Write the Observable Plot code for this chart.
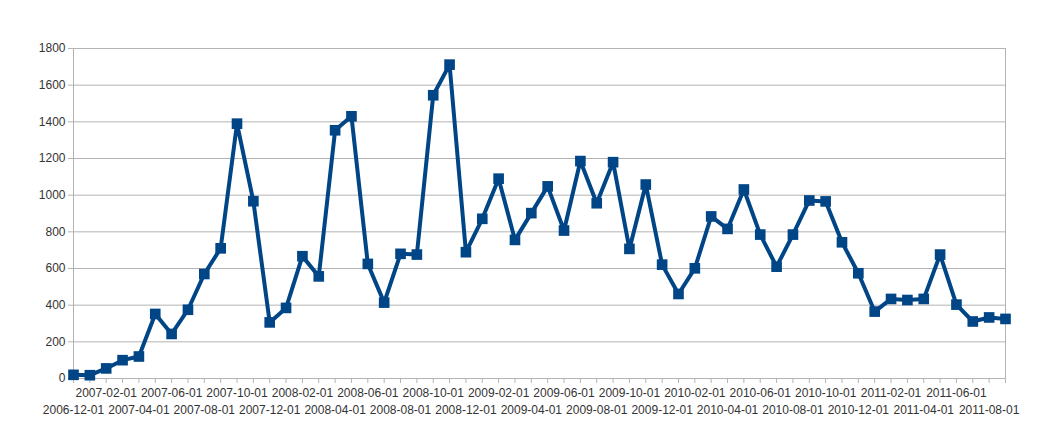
<!DOCTYPE html>
<html>
<head>
<meta charset="utf-8">
<script src="https://cdn.jsdelivr.net/npm/d3@7"></script>
<script src="https://cdn.jsdelivr.net/npm/@observablehq/plot@0.6"></script>
<style>
  html, body { margin: 0; padding: 0; background: #fff; }
</style>
</head>
<body>
<div id="chart"></div>
<script>
const dates = [
  "2006-12-01","2007-01-01","2007-02-01","2007-03-01","2007-04-01","2007-05-01","2007-06-01","2007-07-01","2007-08-01","2007-09-01",
  "2007-10-01","2007-11-01","2007-12-01","2008-01-01","2008-02-01","2008-03-01","2008-04-01","2008-05-01","2008-06-01","2008-07-01",
  "2008-08-01","2008-09-01","2008-10-01","2008-11-01","2008-12-01","2009-01-01","2009-02-01","2009-03-01","2009-04-01","2009-05-01",
  "2009-06-01","2009-07-01","2009-08-01","2009-09-01","2009-10-01","2009-11-01","2009-12-01","2010-01-01","2010-02-01","2010-03-01",
  "2010-04-01","2010-05-01","2010-06-01","2010-07-01","2010-08-01","2010-09-01","2010-10-01","2010-11-01","2010-12-01","2011-01-01",
  "2011-02-01","2011-03-01","2011-04-01","2011-05-01","2011-06-01","2011-07-01","2011-08-01","2011-09-01"
];
const values = [
  20, 18, 55, 100, 120, 352, 243, 375, 570, 710,
  1390, 967, 306, 385, 667, 557, 1354, 1430, 625, 414,
  680, 676, 1545, 1712, 689, 871, 1090, 756, 902, 1048,
  807, 1186, 956, 1180, 707, 1058, 621, 461, 601, 884,
  816, 1031, 785, 610, 785, 971, 966, 743, 574, 365,
  434, 428, 434, 676, 403, 311, 333, 325
];
const yTicks = [0, 200, 400, 600, 800, 1000, 1200, 1400, 1600, 1800];
const topRowLabels = dates.filter((d, i) => i % 4 === 2);
const bottomRowLabels = dates.filter((d, i) => i % 4 === 0);

const data = dates.map((d, i) => ({date: d, value: values[i]}));

const chart = Plot.plot({
  width: 1063,
  height: 443,
  marginLeft: 73,
  marginRight: 58,
  marginTop: 48,
  marginBottom: 65,
  x: {type: "point", domain: dates, padding: 0, round: false},
  y: {domain: [0, 1800]},
  style: {fontFamily: "'Liberation Sans', Arial, sans-serif", fontSize: "12px", background: "#fff"},
  marks: [
    Plot.gridY({ticks: yTicks, stroke: "#b3b3b3", strokeOpacity: 1}),
    Plot.ruleX([dates[0], dates[dates.length - 1]], {stroke: "#b3b3b3"}),
    Plot.axisY({ticks: yTicks, tickSize: 5, tickPadding: 3, tickFormat: d => String(d), stroke: "#b3b3b3", fill: "#333", label: null}),
    Plot.axisX({ticks: dates, tickSize: 5, tickFormat: () => "", stroke: "#b3b3b3", label: null}),
    Plot.axisX({ticks: topRowLabels, tickSize: 0, tickPadding: 10, fill: "#333", label: null}),
    Plot.axisX({ticks: bottomRowLabels, tickSize: 0, tickPadding: 27, fill: "#333", label: null}),
    Plot.line(data, {x: "date", y: "value", stroke: "#004586", strokeWidth: 4}),
    Plot.dot(data, {x: "date", y: "value", symbol: "square", r: 6, fill: "#004586", stroke: "none"})
  ]
});
document.getElementById("chart").appendChild(chart);
</script>
</body>
</html>
